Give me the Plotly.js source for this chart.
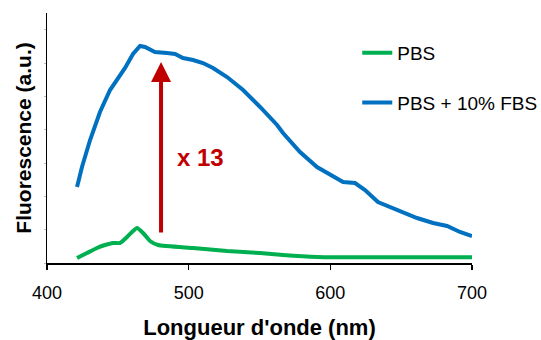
<!DOCTYPE html>
<html>
<head>
<meta charset="utf-8">
<script src="https://cdn.plot.ly/plotly-3.0.1.min.js"></script>
<style>html,body{margin:0;padding:0;background:#fff;}#chart{width:541px;height:340px;}</style>
</head>
<body>
<div id="chart"></div>
<script>
// Wavelength (nm) and fluorescence (a.u.)
const fbsWavelength = [421.2, 424.7, 430.4, 437.4, 444.5, 450.1, 455.1, 460.7, 465.7, 469.2, 476.2, 484.7, 490.4, 496.0, 503.1, 510.1, 517.2, 527.1, 538.4, 550.4, 562.4, 566.6, 578.6, 590.6, 599.8, 609.0, 617.4, 624.5, 633.6, 647.1, 661.2, 672.5, 682.4, 691.5, 700];
const fbsValues = [2.28, 2.88, 3.69, 4.53, 5.19, 5.55, 5.85, 6.27, 6.51, 6.48, 6.33, 6.30, 6.27, 6.15, 6.09, 6.00, 5.85, 5.58, 5.19, 4.68, 4.14, 3.90, 3.33, 2.88, 2.64, 2.43, 2.40, 2.19, 1.83, 1.59, 1.35, 1.20, 1.11, 0.93, 0.81];

const pbsWavelength = [421.2, 428.2, 435.3, 440.9, 446.6, 451.5, 456.5, 460.0, 463.6, 467.8, 472.7, 478.4, 503.1, 527.1, 550.4, 566.6, 590.6, 613.9, 661.2, 700];
const pbsValues = [0.15, 0.30, 0.45, 0.54, 0.60, 0.60, 0.78, 0.93, 1.05, 0.90, 0.66, 0.54, 0.45, 0.36, 0.30, 0.24, 0.18, 0.17, 0.17, 0.17];

const seriesNames = ["PBS", "PBS + 10% FBS"];
const xTicks = [400, 500, 600, 700];
const arrowX = 480.5, arrowTail = 0.87, arrowTip = 6.03;
const factorLabel = "x 13";

const font = "Liberation Sans, Arial, sans-serif";

const traces = [
  {x: pbsWavelength, y: pbsValues, name: seriesNames[0], mode: "lines", legendgroup: "a",
   line: {color: "#00B050", width: 4, shape: "spline", smoothing: 0.5}},
  {x: fbsWavelength, y: fbsValues, name: seriesNames[1], mode: "lines", legendgroup: "b",
   line: {color: "#0070C0", width: 4, shape: "linear"}}
];

const layout = {
  width: 541, height: 340,
  margin: {l: 47, r: 69, t: 13, b: 77, autoexpand: false},
  paper_bgcolor: "#fff", plot_bgcolor: "#fff",
  font: {family: font, color: "#000"},
  showlegend: true,
  legend: {x: 0.730, y: 0.916, xanchor: "left", yanchor: "top", traceorder: "grouped",
           tracegroupgap: 22, font: {size: 19, family: font, color: "#000"}, bgcolor: "rgba(0,0,0,0)"},
  xaxis: {range: [400, 700], tickvals: xTicks, ticktext: xTicks.map(String),
          showgrid: false, zeroline: false, showline: true, linecolor: "#000", linewidth: 1.5,
          ticks: "outside", ticklen: 5, tickwidth: 1.5, tickcolor: "#000", ticklabelstandoff: 8,
          tickfont: {size: 18, family: font},
          title: {text: "<b>Longueur d'onde (nm)</b>", font: {size: 22, family: font}, standoff: 25}},
  yaxis: {range: [0, 7.5], dtick: 1, showticklabels: false, showgrid: false, zeroline: false,
          showline: true, linecolor: "#000", linewidth: 1.5,
          ticks: "outside", ticklen: 2, tickcolor: "#bbb",
          title: {text: "<b>Fluorescence (a.u.)</b>", font: {size: 21, family: font}, standoff: 6}},
  annotations: [
    {x: arrowX, y: arrowTip, ax: arrowX, ay: arrowTail, xref: "x", yref: "y", axref: "x", ayref: "y",
     showarrow: true, arrowhead: 2, arrowsize: 1, arrowwidth: 4, arrowcolor: "#C00000", text: ""},
    {x: 508.7, y: 3.18, xref: "x", yref: "y", text: "<b>" + factorLabel + "</b>", showarrow: false,
     font: {size: 24, family: font, color: "#C00000"}}
  ]
};

Plotly.newPlot("chart", traces, layout, {displayModeBar: false, staticPlot: true});
</script>
</body>
</html>
